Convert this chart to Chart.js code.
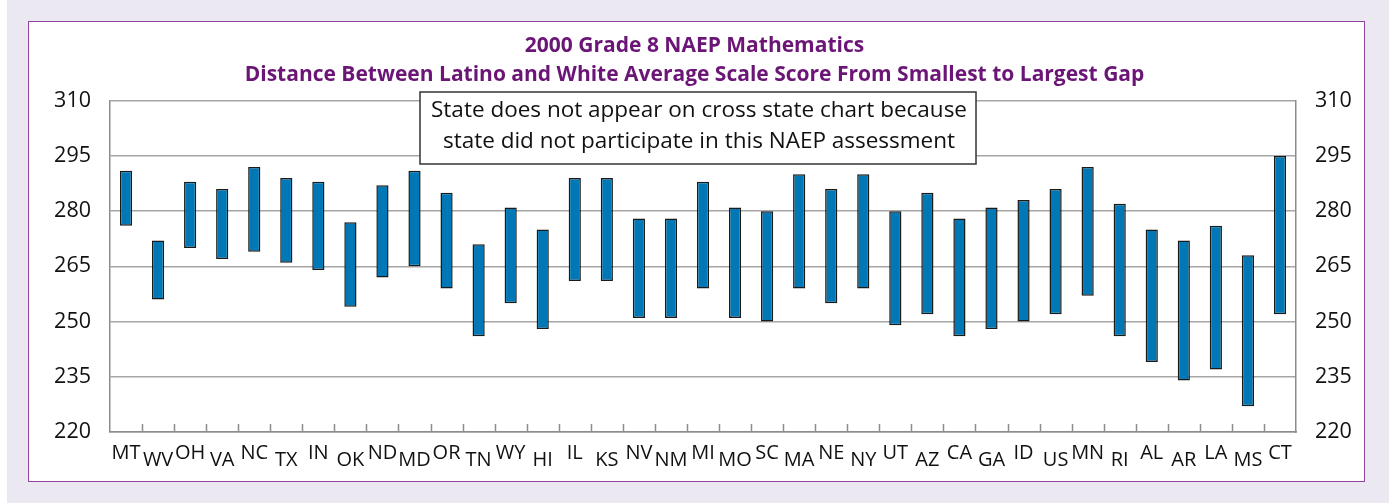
<!DOCTYPE html>
<html>
<head>
<meta charset="utf-8">
<script src="https://cdn.jsdelivr.net/npm/chart.js@4.4.1/dist/chart.umd.min.js"></script>
<style>
  html, body { margin:0; padding:0; background:#fff; }
  #page { position:absolute; left:7px; top:0; width:1382px; height:503px; background:#ebe8f2; }
  #box { position:absolute; left:28px; top:21px; width:1335px; height:459px; background:#fff; border:1.5px solid #8e44a0; }
  #wrap { position:absolute; left:0; top:0; width:1389px; height:503px; }
</style>
</head>
<body>
<div id="page"></div>
<div id="box"></div>
<div id="wrap"><canvas id="chart" width="1389" height="503"></canvas></div>
<script>
// states ordered from smallest to largest gap
const states = ["MT","WV","OH","VA","NC","TX","IN","OK","ND","MD","OR","TN","WY","HI","IL","KS","NV","NM","MI","MO","SC","MA","NE","NY","UT","AZ","CA","GA","ID","US","MN","RI","AL","AR","LA","MS","CT"];
// Latino average scale score (low end of bar)
const latino = [276,256,270,267,269,266,264,254,262,265,259,246,255,248,261,261,251,251,259,251,250,259,255,259,249,252,246,248,250,252,257,246,239,234,237,227,252];
// White average scale score (high end of bar)
const white  = [291,272,288,286,292,289,288,277,287,291,285,271,281,275,289,289,278,278,288,281,280,290,286,290,280,285,278,281,283,286,292,282,275,272,276,268,295];
const yTicks = [220,235,250,265,280,295,310];
const titleLines = ["2000 Grade 8 NAEP Mathematics","Distance Between Latino and White Average Scale Score From Smallest to Largest Gap"];
const noteLines = ["State does not appear on cross state chart because","state did not participate in this NAEP assessment"];

const FONT = "'Open Sans', sans-serif";

// inward category ticks + note box
const extras = {
  id: "extras",
  afterDraw(chart){
    const {ctx, chartArea:a, scales:{x}} = chart;
    ctx.save();
    ctx.strokeStyle = "#8c8c8c"; ctx.lineWidth = 1.5;
    for (let i = 1; i < states.length; i++){
      const px = Math.round((x.getPixelForValue(i-1) + x.getPixelForValue(i))/2) + 0.5;
      ctx.beginPath(); ctx.moveTo(px, a.bottom); ctx.lineTo(px, a.bottom-8); ctx.stroke();
    }
    // note box
    const bx = 420, by = 92, bw = 556, bh = 72;
    ctx.fillStyle = "#fff"; ctx.fillRect(bx, by, bw, bh);
    ctx.strokeStyle = "#333"; ctx.lineWidth = 1.5; ctx.strokeRect(bx, by, bw, bh);
    ctx.fillStyle = "#111"; ctx.font = "22.5px " + FONT;
    ctx.textAlign = "center"; ctx.textBaseline = "middle";
    ctx.fillText(noteLines[0], bx + bw/2 + 1, by + 19);
    ctx.fillText(noteLines[1], bx + bw/2 + 1, by + 50);
    ctx.restore();
  }
};

const yCommon = {
  min: 220, max: 310,
  afterBuildTicks: s => { s.ticks = yTicks.map(v => ({value:v})); },
  ticks: { color:"#111", font:{ family:FONT, size:21.5 }, padding:19 },
  border: { display:true, color:"#8c8c8c", width:1.5 },
};

new Chart(document.getElementById("chart"), {
  type: "bar",
  data: {
    labels: states,
    datasets: [{
      label: "Gap",
      data: states.map((s,i) => [latino[i], white[i]]),
      backgroundColor: "#0078b5",
      borderColor: "#1a1a1a",
      borderWidth: 1.5,
      borderSkipped: false,
      barPercentage: 0.5,
      categoryPercentage: 0.76
    }]
  },
  options: {
    responsive: false,
    animation: false,
    devicePixelRatio: 1,
    layout: { padding: { left:0, right:0, top:0, bottom:0 } },
    plugins: {
      legend: { display:false },
      tooltip: { enabled:false },
      title: {
        display: true, text: titleLines, color:"#6b1677",
        font: { family:FONT, size:21, weight:"bold", lineHeight:1.35 },
        padding: { top:32, bottom:12 }
      }
    },
    scales: {
      x: {
        grid: { display:false },
        border: { display:true, color:"#8c8c8c", width:1.5 },
        ticks: {
          autoSkip:false, maxRotation:0, color:"#111", padding:9,
          font: { family:FONT, size:20, lineHeight:0.38 },
          callback: (v,i) => i % 2 === 0 ? [states[i], ""] : ["", states[i]]
        },
        afterFit: s => { s.height = 71; }
      },
      y: Object.assign({}, yCommon, {
        position:"left",
        grid: { color:"#a6a6a6", lineWidth:1.5, drawTicks:false },
        afterFit: s => { s.width = 110; }
      }),
      y2: Object.assign({}, yCommon, {
        position:"right",
        grid: { display:false, drawTicks:false },
        afterFit: s => { s.width = 93; }
      })
    }
  },
  plugins: [extras]
});
</script>
</body>
</html>
